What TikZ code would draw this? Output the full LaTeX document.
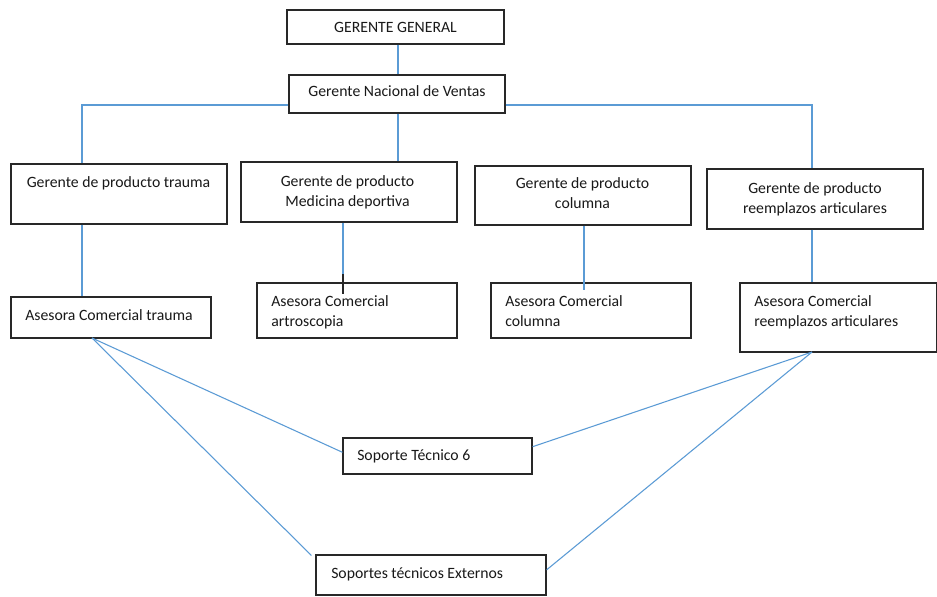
\documentclass[tikz,border=0pt]{standalone}
\usepackage{fontspec}
\setmainfont{Carlito}
\usetikzlibrary{fit,calc}
\definecolor{lnblue}{RGB}{91,155,213}
\definecolor{boxline}{RGB}{40,40,40}
\begin{document}
\begin{tikzpicture}[x=0.75pt,y=-0.75pt,
  box/.style={draw=boxline, line width=0.9pt, inner sep=0pt, fill=white},
  txt/.style={font=\fontsize{11.8}{15.6}\selectfont, inner sep=0pt, text=black!90},
  ltxt/.style={txt, align=left, anchor=west},
  ctxt/.style={txt, align=center},
  conn/.style={draw=lnblue, line width=0.8pt}]
\useasboundingbox[fill=white] (0,0) rectangle (937,596);

% boxes
\node[box, fit={(287,10)(504,44)}] (gg) {};
\node[box, fit={(289,75)(505,113)}] (gnv) {};
\node[box, fit={(11,164)(227,224)}] (gpt) {};
\node[box, fit={(241,162)(457,222)}] (gpm) {};
\node[box, fit={(475,166)(691,225)}] (gpc) {};
\node[box, fit={(707,169)(923,229)}] (gpr) {};
\node[box, fit={(11,297)(211,338)}] (act) {};
\node[box, fit={(257,283)(457,338)}] (aca) {};
\node[box, fit={(491,283)(691,338)}] (aco) {};
\node[box, fit={(740,283)(936.4,352)}] (acr) {};
\node[box, fit={(343,438)(532,474)}] (st6) {};
\node[box, fit={(316,555)(546,595)}] (ste) {};

% texts
\node[ctxt] (ggt) at (395.5,27) {GERENTE GENERAL};
\node[ctxt] (gnvt) at (397,91) {Gerente Nacional de Ventas};
\node[ctxt] (gptt) at (118.5,183) {Gerente de producto trauma};
\node[ctxt, anchor=north] (gpmt) at (347.5,175) {Gerente de producto\\Medicina deportiva};
\node[ctxt, anchor=north] (gpct) at (582.5,177) {Gerente de producto\\columna};
\node[ctxt, anchor=north] (gprt) at (815,182) {Gerente de producto\\reemplazos articulares};
\node[ltxt] (actt) at (25,315) {Asesora Comercial trauma};
\node[ltxt, anchor=north west] (acat) at (271,295) {Asesora Comercial\\artroscopia};
\node[ltxt, anchor=north west] (acot) at (505,295) {Asesora Comercial\\columna};
\node[ltxt, anchor=north west] (acrt) at (754,295) {Asesora Comercial\\reemplazos articulares};
\node[ltxt] (st6t) at (357,456) {Soporte Técnico 6};
\node[ltxt] (stet) at (331,574) {Soportes técnicos Externos};

% helper coordinates
\coordinate (bl) at (82,105);
\coordinate (br) at (812,105);
\coordinate (mx) at (343,283);
\coordinate (cx) at (584,290);
\coordinate (dl) at (92,338);
\coordinate (dr) at (812,352);

% connectors
\draw[conn] (gg.south -| 398,0) -- (398,0 |- gnv.north);
\draw[conn] (gnv.west |- bl) -- (bl) -- (bl |- gpt.north);
\draw[conn] (gnv.east |- br) -- (br) -- (br |- gpr.north);
\draw[conn] (398,0 |- gnv.south) -- (398,0 |- gpm.north);
\draw[conn] (bl |- gpt.south) -- (bl |- act.north);
\draw[conn] (mx |- gpm.south) -- (mx);
\draw[conn] (cx |- gpc.south) -- (cx);
\draw[conn] (br |- gpr.south) -- (br |- acr.north);
\draw[black!85, line width=1pt] (343,274) -- (343,294);

\draw[conn] (dl) -- ($(st6.north west)!0.4!(st6.south west)$);
\draw[conn] (dl) -- ($(ste.north west)+(-4,1)$);
\draw[conn] (dr) -- ($(st6.north east)!0.25!(st6.south east)$);
\draw[conn] (dr) -- ($(ste.north east)!0.375!(ste.south east)$);
\end{tikzpicture}
\end{document}
